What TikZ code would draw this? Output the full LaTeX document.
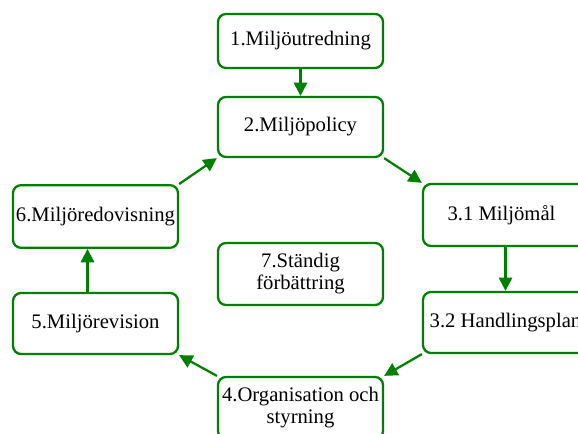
\documentclass[tikz,border=0pt]{standalone}
\usepackage{fontspec}
\setmainfont{Liberation Serif}
\usetikzlibrary{arrows.meta}
\definecolor{boxgreen}{RGB}{0,128,0}
\tikzset{
  box/.style={draw=boxgreen, line width=1.7pt, rounded corners=6pt, fill=white,
    minimum width=123.75pt, minimum height=46pt, align=center, inner sep=1pt,
    font=\fontsize{15.5}{16.5}\selectfont},
  flow/.style={draw=boxgreen, line width=1.7pt, -{Triangle[width=10pt,length=10pt]}}
}
\begin{document}
\begin{tikzpicture}[x=0.75pt,y=-0.75pt]
\useasboundingbox (0,0) rectangle (578,434);
%
\node[box, minimum height=40.5pt] (n1) at (300.5,41) {1.Miljöutredning};
\node[box, minimum height=45pt] (n2) at (300.5,127) {2.Miljöpolicy};
\node[box, minimum height=46.5pt] (n31) at (505.5,215) {3.1 Miljömål\hspace{6pt}};
\node[box, minimum height=45.75pt] (n32) at (505.5,322.5) {3.2 Handlingsplan};
\node[box, minimum height=46.5pt] (n4) at (300.5,408) {4.Organisation och\\styrning};
\node[box, minimum height=45.75pt] (n5) at (95.5,323.5) {5.Miljörevision};
\node[box, minimum height=47pt] (n6) at (95.5,216.5) {6.Miljöredovisning};
\node[box, minimum height=46.5pt] (n7) at (300.5,274) {7.Ständig\\förbättring};
%
\draw[flow] (n1) -- (n2);
\draw[flow] (n2.south east) -- (n31.north west);
\draw[flow] (n31) -- (n32);
\draw[flow] (n32.south west) -- (n4.north east);
\draw[flow] (n4.north west) -- (n5.south east);
\draw[flow] ([xshift=-6pt]n5.north) -- ([xshift=-6pt]n6.south);
\draw[flow] (n6.north east) -- (n2.south west);
%
\end{tikzpicture}
\end{document}
